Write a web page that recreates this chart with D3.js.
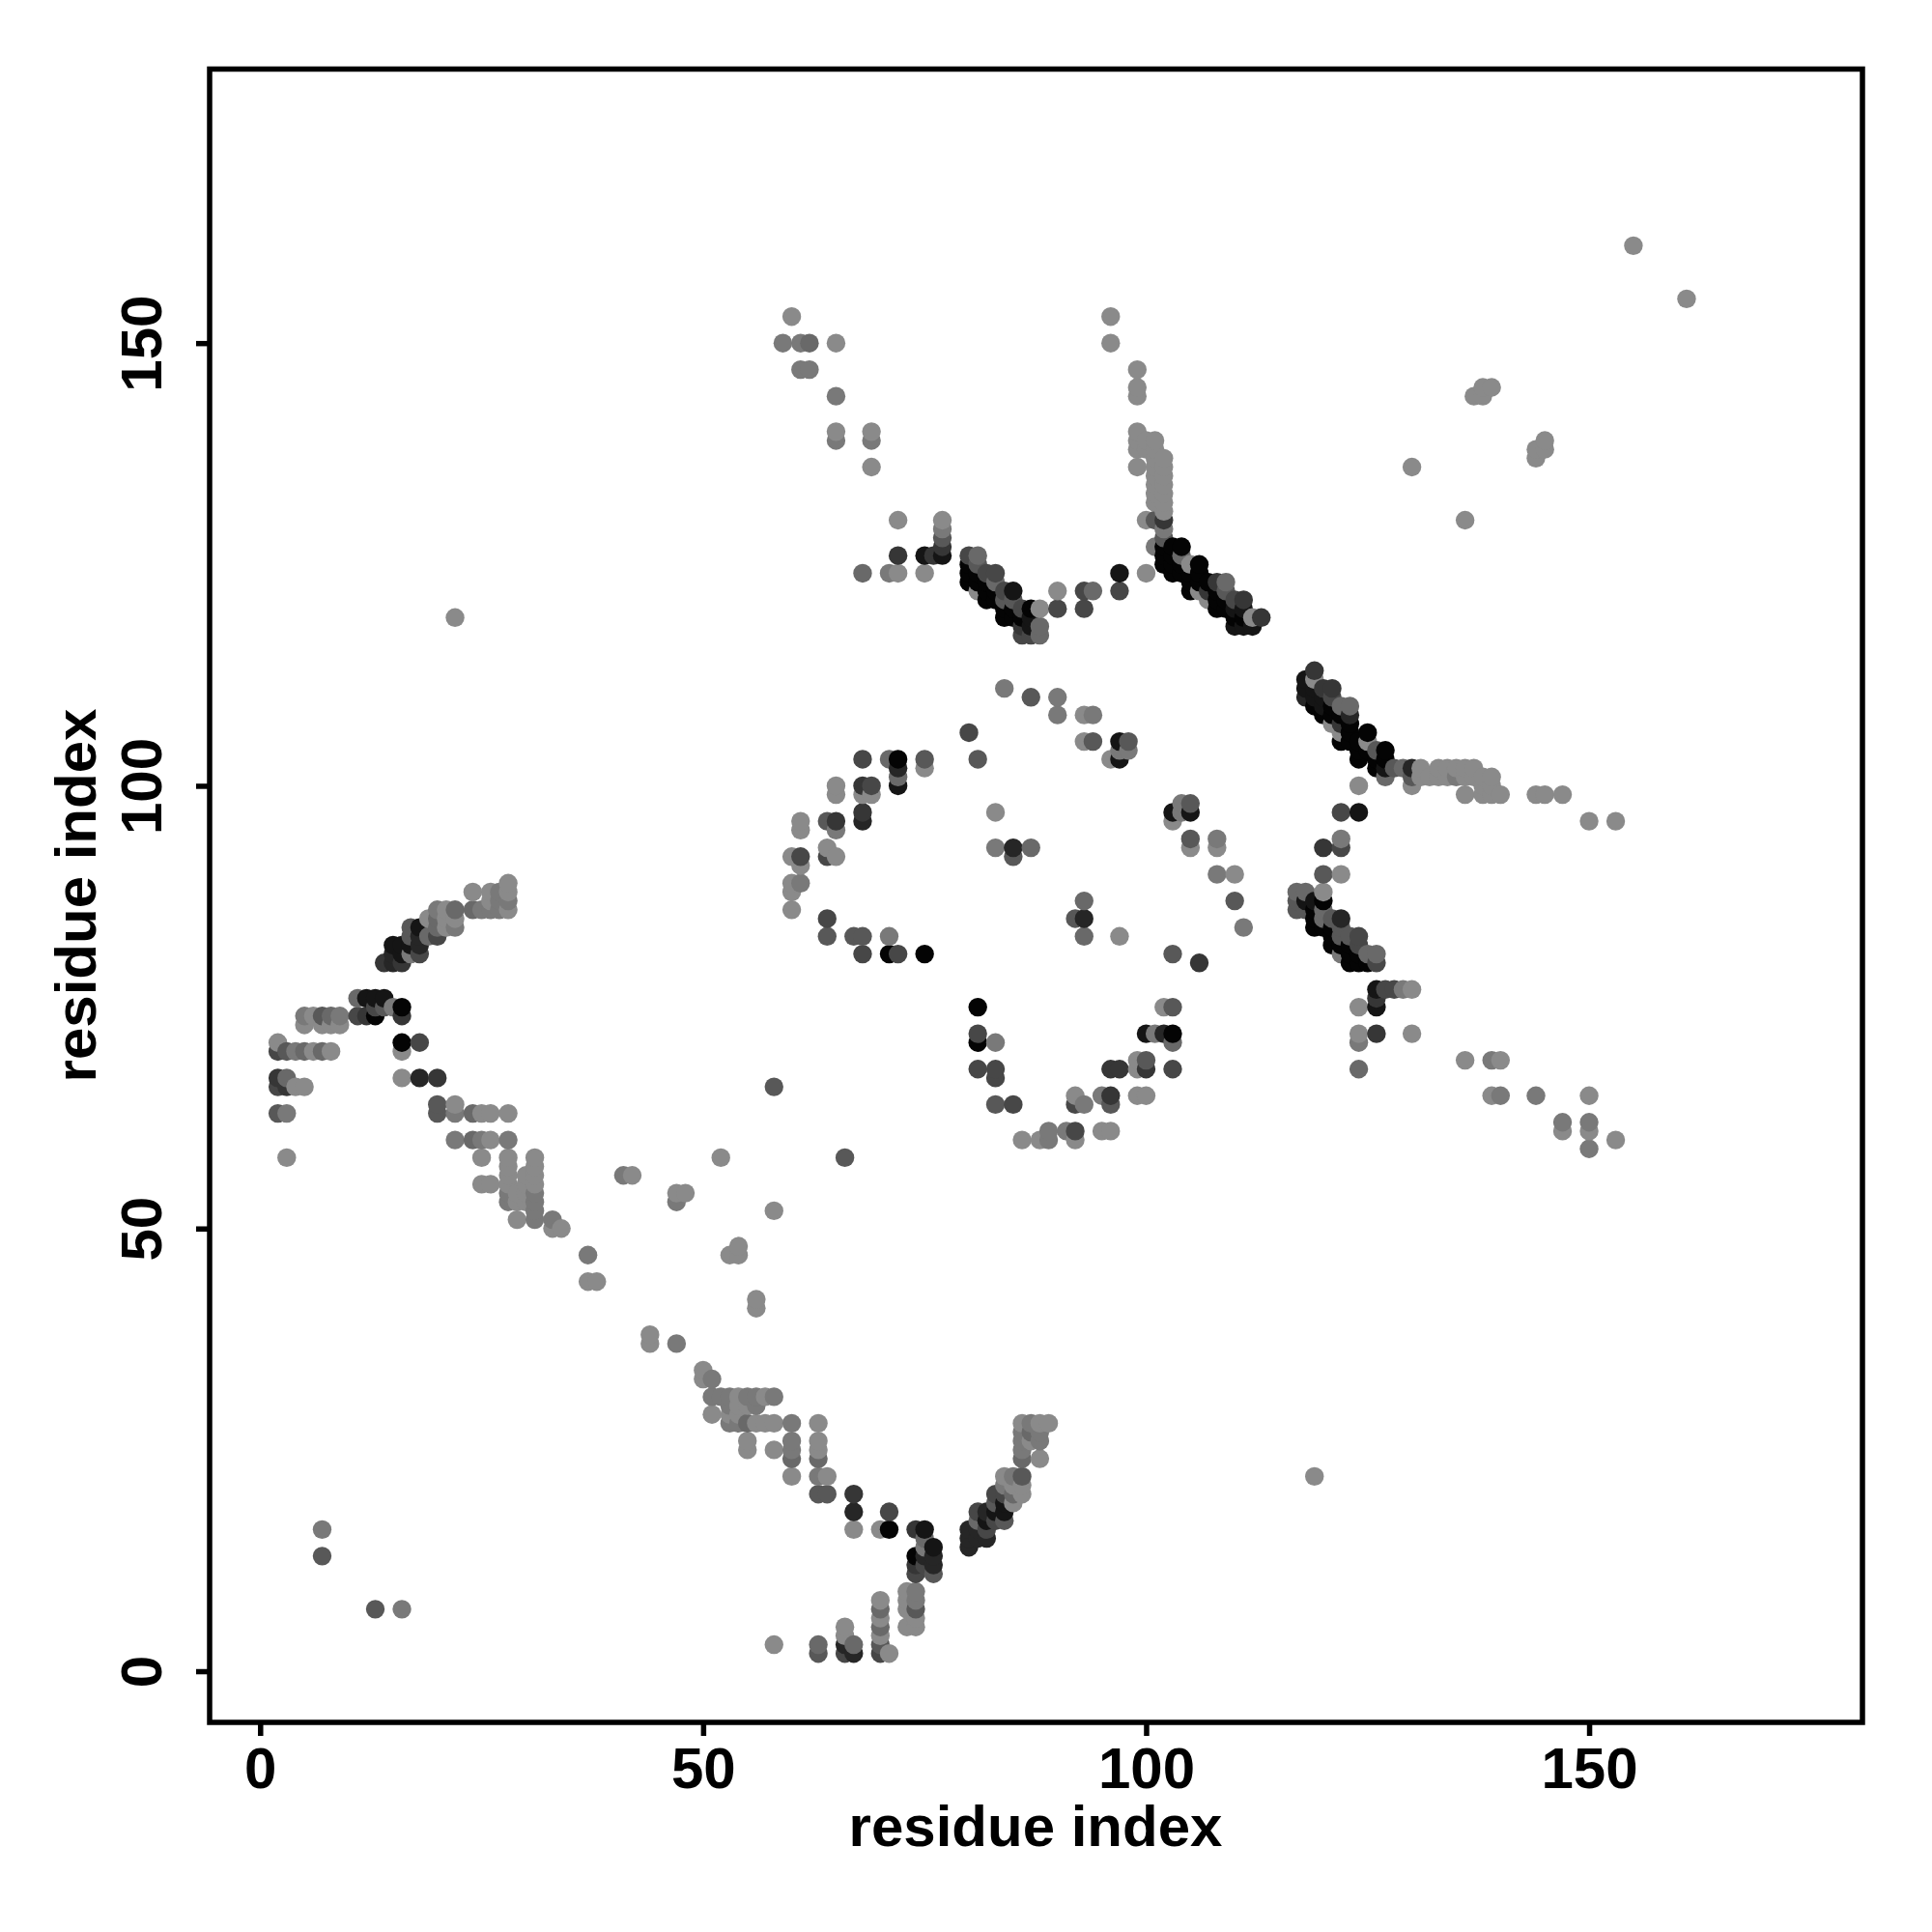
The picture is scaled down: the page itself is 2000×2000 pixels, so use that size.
<!DOCTYPE html>
<html><head><meta charset="utf-8">
<script src="https://cdn.jsdelivr.net/npm/d3@7"></script>
<style>html,body{margin:0;background:#fff}text{font-family:"Liberation Sans",Arial,sans-serif;font-weight:700}</style>
</head><body><svg id="c" width="2000" height="2000"></svg>
<script>
// each contact: [residue i, residue j, strength level 0..8]
const upperLeftArc=[[28,89,0],[28,88,0],[28,87,1],[28,86,0],[24,88,0],[26,88,0],[27,88,1],[26,87,0],[27,87,1],[24,86,2],[25,86,1],[26,86,1],[27,86,1],[22,86,2],[21,86,0],[20,86,1],[22,85,0],[21,85,0],[22,84,1],[21,84,0],[20,85,2],[20,84,2],[20,83,4],[19,85,0],[19,83,2],[18,84,7],[17,84,3],[17,83,3],[18,83,6],[18,82,6],[18,81,4],[17,81,1],[17,82,7],[15,82,7],[16,82,7],[14,80,5],[15,80,6],[16,80,5],[15,81,6],[16,81,7]];
const leftBand=[[11,76,2],[12,76,7],[13,76,7],[14,76,7],[13,75,4],[14,75,3],[15,75,1],[16,75,8],[11,74,4],[12,74,5],[13,74,8],[16,74,5],[5,74,1],[6,74,0],[7,74,3],[8,74,2],[9,74,1],[5,73,0],[7,73,0],[8,73,0],[9,73,0],[2,71,0],[2,70,4],[3,70,3],[4,70,1],[5,70,2],[6,70,0],[7,70,2],[8,70,0],[16,71,8],[18,71,4],[16,70,0],[2,67,5],[3,67,2],[16,67,0],[18,67,6],[20,67,5],[2,66,4],[3,66,5],[4,66,0],[5,66,0],[2,63,3],[3,63,1],[20,64,3],[20,63,3],[22,64,0],[22,63,1],[24,63,2],[25,63,0],[26,63,0],[28,63,0],[22,60,1],[24,60,2],[25,60,1],[26,60,0],[28,60,1],[3,58,0]];
const diagonalRun=[[25,58,0],[28,58,0],[31,58,0],[28,57,0],[31,57,0],[28,56,0],[30,56,0],[31,56,0],[25,55,0],[26,55,0],[28,55,0],[30,55,0],[31,55,0],[28,54,1],[29,54,0],[30,54,0],[31,54,1],[28,53,1],[29,53,0],[30,53,0],[31,53,1],[31,52,1],[29,51,0],[31,51,1],[33,51,1],[33,50,0],[34,50,0],[37,47,1],[37,44,0],[38,44,0],[41,56,1],[42,56,0],[47,54,0],[48,54,0],[47,53,1],[44,38,0],[44,37,0],[47,37,1],[52,58,0],[53,47,0],[54,47,0],[54,48,0],[58,52,0],[58,66,3],[66,58,3],[56,42,0],[56,41,0]];
const bottomV=[[50,34,0],[50,33,0],[51,33,1],[51,31,1],[52,31,1],[53,31,1],[54,31,0],[55,31,1],[56,31,1],[57,31,0],[58,31,1],[53,30,1],[54,30,0],[55,30,0],[56,30,1],[51,29,0],[53,29,0],[54,29,0],[53,28,1],[54,28,1],[55,28,2],[56,28,0],[57,28,0],[58,28,0],[60,28,1],[63,28,0],[55,26,0],[55,25,0],[58,25,0],[60,26,1],[60,25,1],[60,24,2],[60,22,0],[63,26,0],[63,25,0],[63,24,2],[63,22,1],[64,22,0],[63,20,3],[64,20,3],[67,20,5],[67,18,6],[67,16,0],[70,16,0],[71,16,8],[71,18,4],[74,16,5],[75,16,7],[75,15,2],[75,14,1],[76,14,7],[76,13,6],[76,12,6],[76,11,3],[74,13,8],[74,12,5],[74,11,4],[75,13,6],[75,12,4],[73,9,0],[73,8,0],[73,7,0],[73,5,0],[74,9,1],[74,8,1],[74,7,3],[74,6,0],[74,5,0],[70,8,0],[70,7,2],[70,6,0],[70,5,2],[70,4,0],[70,3,3],[70,2,4],[71,2,0],[66,5,0],[66,4,0],[66,3,6],[66,2,4],[67,3,2],[67,2,6],[63,3,2],[63,2,3],[58,3,0]];
const bottomArm=[[80,16,6],[80,15,6],[80,14,6],[81,18,4],[81,17,2],[81,16,6],[81,15,6],[82,18,6],[82,17,7],[82,16,4],[82,15,6],[83,20,4],[83,19,3],[83,18,7],[83,17,4],[84,20,4],[84,19,7],[84,18,7],[84,17,3],[85,19,0],[85,20,2],[86,20,0],[84,22,0],[85,22,1],[86,22,3],[84,21,1],[85,21,0],[86,21,0],[86,28,0],[87,28,1],[88,28,0],[89,28,0],[86,27,1],[87,27,2],[88,27,1],[86,26,1],[87,26,0],[88,26,1],[86,25,1],[86,24,2],[88,24,0]];
const topCurves=[[60,153,0],[59,150,1],[61,150,1],[62,150,2],[65,150,0],[61,147,1],[62,147,1],[65,144,1],[65,140,0],[65,139,1],[69,140,0],[69,139,1],[69,136,0],[72,130,0],[77,130,0],[77,129,1],[77,128,3],[77,127,5],[77,126,7],[72,126,5],[75,126,7],[76,126,5],[68,124,2],[71,124,1],[72,124,0],[75,124,0],[96,153,0],[96,150,0],[99,147,0],[99,145,0],[99,144,0],[99,140,0],[99,139,0],[99,138,0],[99,136,0],[97,124,7],[97,122,4],[90,122,0],[90,120,4],[93,122,4],[94,122,2],[93,120,4],[100,124,0]];
const stripeOne=[[80,126,4],[81,126,2],[80,125,8],[80,124,8],[80,123,8],[81,125,3],[81,124,8],[81,123,8],[81,122,0],[82,124,4],[83,124,4],[82,123,8],[82,122,8],[82,121,8],[83,123,2],[83,122,8],[83,121,8],[84,122,4],[85,122,7],[84,121,3],[84,120,8],[84,119,8],[85,121,3],[85,120,8],[85,119,8],[86,120,4],[86,119,8],[86,118,5],[86,117,4],[87,120,8],[88,120,0],[88,118,2],[88,117,2],[87,119,7],[87,118,7],[87,117,4]];
const stripeTwo=[[100,139,0],[101,139,0],[100,138,0],[101,138,0],[102,137,0],[102,136,0],[102,135,0],[102,134,0],[102,133,0],[102,132,0],[101,137,0],[101,136,0],[101,135,0],[101,134,0],[101,133,0],[101,132,0],[100,130,0],[101,130,3],[102,131,0],[102,130,5],[102,129,1],[102,128,3],[101,127,1],[102,127,8],[103,127,8],[104,127,8],[102,126,8],[102,125,8],[103,126,8],[103,125,8],[103,124,8],[104,126,2],[104,125,8],[104,124,8],[105,125,0],[105,124,8],[105,123,8],[105,122,8],[106,125,8],[106,124,8],[106,123,8],[106,122,0],[107,123,8],[107,122,5],[107,121,0],[108,123,5],[109,123,2],[108,122,8],[108,121,8],[108,120,8],[109,122,3],[109,121,8],[109,120,8],[110,121,4],[111,121,5],[110,120,7],[110,119,8],[110,118,7],[111,120,7],[111,119,8],[111,118,7],[112,119,0],[112,118,7],[113,119,5]];
const stripeThree=[[119,113,5],[118,112,7],[118,111,7],[118,110,6],[119,112,0],[120,111,5],[121,111,5],[119,111,7],[120,110,7],[119,110,7],[120,109,7],[119,109,8],[120,108,8],[122,109,2],[123,109,2],[121,110,4],[121,109,8],[121,108,8],[122,108,8],[121,107,0],[122,106,0],[122,107,5],[123,108,6],[123,107,8],[122,105,8],[123,106,8],[123,105,8],[124,103,8],[124,104,8],[124,105,8],[125,106,8],[125,105,0],[125,104,8],[126,104,3],[127,104,8],[126,103,8],[126,102,8],[127,103,8],[127,102,7],[127,101,2],[124,100,0],[128,102,3],[129,102,2],[130,102,6],[131,102,0],[130,100,0],[130,101,3],[131,101,0],[132,101,0],[133,102,0],[134,102,0],[135,102,0],[136,102,0],[137,102,0],[133,101,0],[134,101,0],[135,101,1],[136,101,0],[137,101,0],[138,101,0],[139,101,0],[138,100,0],[139,100,0],[136,99,0],[138,99,0],[139,99,0],[140,99,0],[144,99,0],[145,99,0],[147,99,0],[150,96,0],[153,96,0],[122,97,4],[124,97,7],[122,94,1],[120,93,5],[122,93,4]];
const stripeFour=[[120,90,3],[122,90,0],[120,88,0],[120,87,8],[117,88,2],[118,88,2],[117,87,3],[117,86,3],[118,87,7],[118,86,3],[119,87,7],[119,86,8],[119,85,8],[119,84,8],[120,86,2],[120,85,2],[120,84,8],[121,85,3],[122,85,6],[121,84,8],[121,83,8],[121,82,8],[122,81,1],[122,84,3],[122,83,3],[122,82,8],[123,83,3],[124,83,4],[123,82,8],[124,82,4],[123,81,8],[123,80,8],[124,81,8],[124,80,8],[125,81,2],[126,81,2],[125,80,8],[126,80,4],[126,77,7],[127,77,4],[128,77,4],[129,77,1],[130,77,0],[126,76,5],[126,75,7],[124,75,0],[124,72,0],[124,71,1],[126,72,5],[130,72,0],[124,68,2],[136,69,0],[139,69,1],[140,69,0],[139,65,0],[140,65,1],[144,65,1],[150,65,0],[147,62,1],[147,61,0],[150,62,1],[150,61,0],[150,59,1],[153,60,0]];
const isolated=[[155,161,0],[161,155,0],[130,136,0],[136,130,0],[137,144,0],[138,145,0],[138,144,0],[139,145,0],[144,138,0],[144,137,0],[145,139,0],[145,138,0],[119,22,0],[22,119,0],[7,16,1],[7,13,3],[13,7,3],[16,7,1]];
const innerRingLeft=[[68,103,4],[71,103,2],[72,103,8],[72,102,6],[72,101,2],[72,100,7],[75,103,3],[75,102,0],[81,103,3],[80,106,4],[65,100,0],[65,99,0],[68,100,5],[69,100,4],[68,99,0],[69,99,0],[61,96,0],[61,95,0],[64,96,3],[65,96,5],[65,95,1],[68,97,5],[68,96,6],[83,97,0],[60,92,0],[61,92,4],[61,91,0],[64,93,0],[65,92,0],[64,92,4],[83,93,1],[85,93,6],[85,92,3],[87,93,2],[60,89,0],[61,89,1],[60,88,0],[60,86,0],[64,85,4],[64,83,3],[67,83,3],[68,83,3],[68,81,4],[71,81,8],[72,81,4],[75,81,8],[71,83,1]];
const innerRingRight=[[84,111,1],[87,110,3],[90,110,1],[90,108,1],[93,108,0],[94,108,1],[93,105,0],[94,105,3],[97,105,7],[98,105,3],[97,104,1],[98,104,1],[96,103,0],[97,103,7],[93,87,2],[93,85,6],[92,85,3],[93,83,2],[97,83,0],[103,97,7],[103,96,0],[104,98,1],[105,98,3],[105,97,7],[104,97,1],[105,94,3],[105,93,0],[108,94,1],[108,93,0],[108,90,1],[110,90,0],[110,87,3],[111,84,1],[103,81,3],[106,80,5]];
const innerRingBottom=[[81,75,8],[81,72,4],[81,71,8],[83,71,1],[81,68,4],[83,68,4],[83,67,4],[83,64,3],[85,64,4],[86,60,0],[88,60,0],[89,61,1],[89,60,1],[91,61,1],[92,61,4],[92,60,0],[92,65,0],[92,64,4],[93,64,1],[95,65,1],[96,65,5],[96,64,3],[95,61,0],[96,61,0],[96,68,5],[97,68,5],[99,69,0],[99,68,0],[100,69,3],[100,68,5],[99,65,0],[100,65,0],[103,68,4],[100,72,7],[101,72,1],[102,72,6],[103,72,8],[103,71,2],[102,75,0],[103,75,3]];
const xTickValues=[0,50,100,150];
const yTickValues=[0,50,100,150];
const axisTitle="residue index";

const contacts=[upperLeftArc,leftBand,diagonalRun,bottomV,bottomArm,topCurves,stripeOne,stripeTwo,stripeThree,stripeFour,isolated,innerRingLeft,innerRingRight,innerRingBottom].flat()
  .map(([i,j,s])=>({i,j,s}))
  .sort((a,b)=>d3.ascending(a.i,b.i)||d3.ascending(a.j,b.j));

const L=217,R=1928,T=71.5,B=1783;
const x=d3.scaleLinear().domain([-5.7,180.85]).range([L,R]);
const y=d3.scaleLinear().domain([-5.78,180.95]).range([B,T]);
const shade=d3.scaleLinear().domain([0,8]).range([138,4]);
const svg=d3.select("#c");

svg.append("g").selectAll("circle").data(contacts).join("circle")
  .attr("cx",d=>x(d.i)).attr("cy",d=>y(d.j)).attr("r",9.7)
  .attr("fill",d=>{const g=Math.round(shade(d.s));return `rgb(${g},${g},${g})`;});

svg.append("rect").attr("x",L).attr("y",T).attr("width",R-L).attr("height",B-T)
  .attr("fill","none").attr("stroke","#000").attr("stroke-width",5.5);

const gx=svg.append("g").attr("transform",`translate(0,${B})`)
  .call(d3.axisBottom(x).tickValues(xTickValues).tickSize(14).tickPadding(11).tickFormat(d3.format("d")));
const gy=svg.append("g").attr("transform",`translate(${L},0)`)
  .call(d3.axisLeft(y).tickValues(yTickValues).tickSize(14).tickFormat(d3.format("d")));
gx.select(".domain").remove(); gy.select(".domain").remove();
svg.selectAll(".tick line").attr("stroke","#000").attr("stroke-width",5.5);
gx.selectAll("text").attr("font-size",60).attr("fill","#000").attr("font-family",null);
gy.selectAll("text").attr("font-size",60).attr("fill","#000").attr("font-family",null)
  .attr("text-anchor","middle").attr("x",0).attr("dy",0)
  .attr("transform",function(){return "translate(-50,0) rotate(-90)";});

svg.append("text").attr("x",1072).attr("y",1911).attr("text-anchor","middle").attr("font-size",60).attr("fill","#000").text(axisTitle);
svg.append("text").attr("transform","translate(99,927) rotate(-90)").attr("text-anchor","middle").attr("font-size",60).attr("fill","#000").text(axisTitle);
</script></body></html>
